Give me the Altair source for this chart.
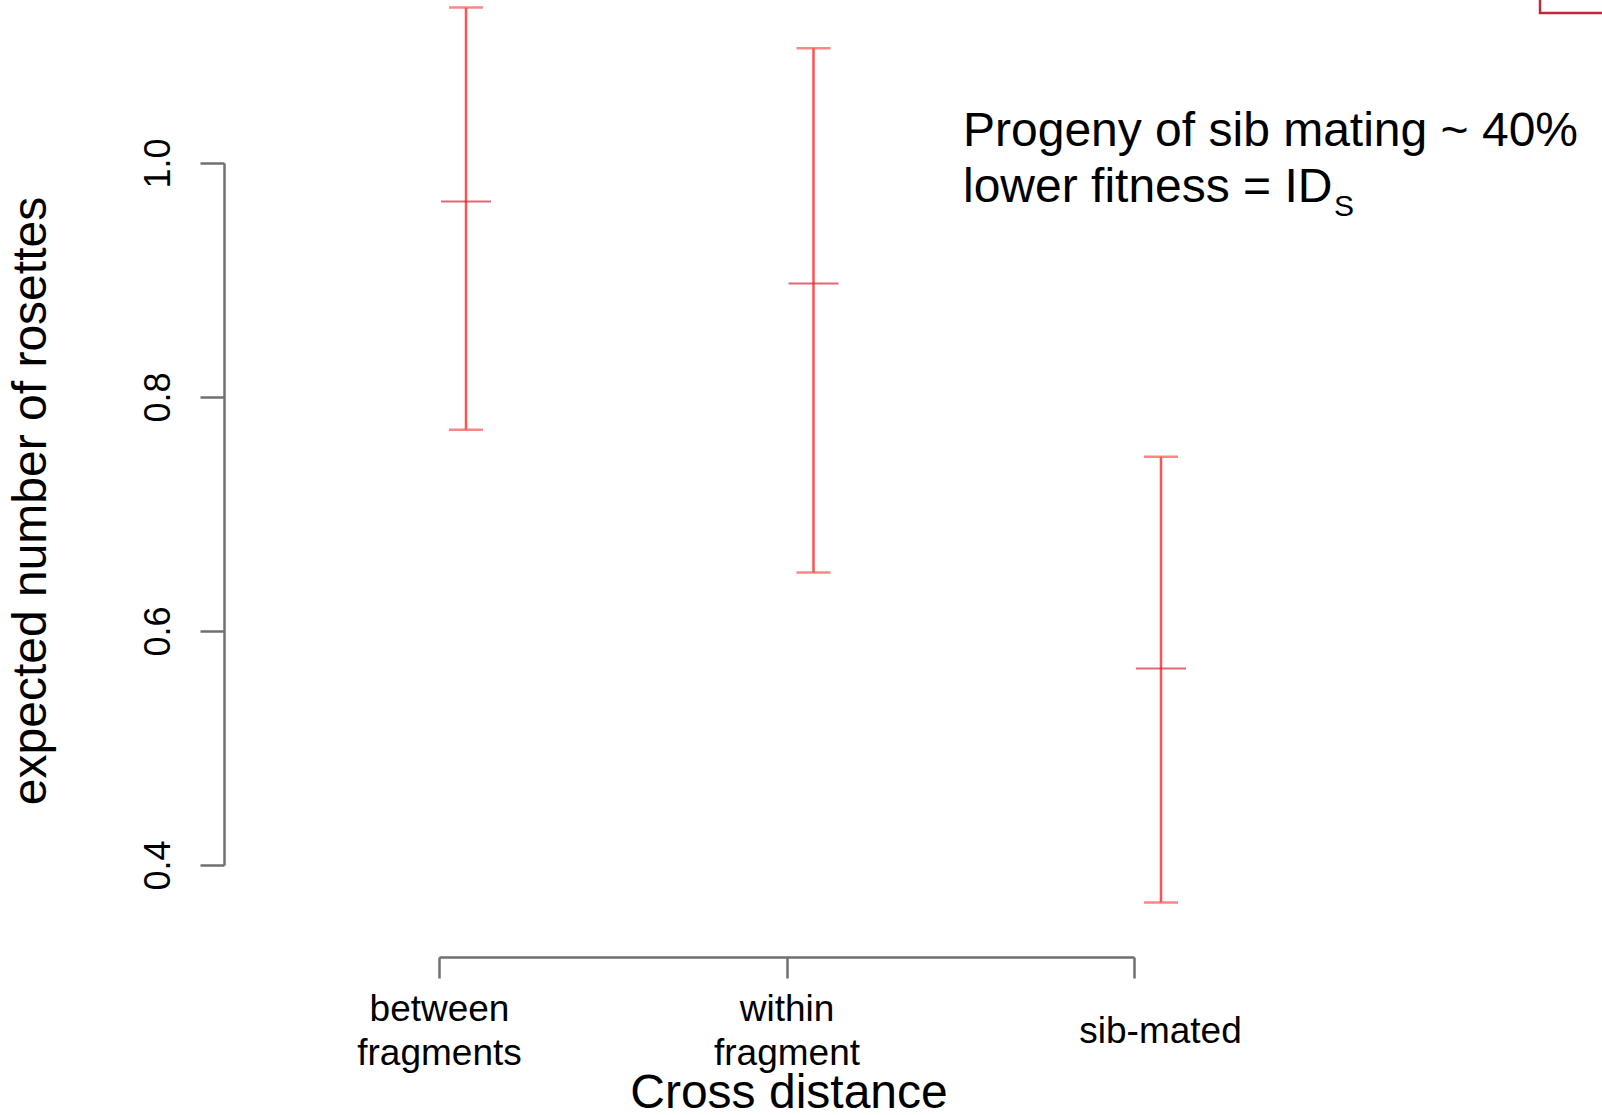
import altair as alt
import pandas as pd

# ---- data ----
categories = ["between fragments", "within fragment", "sib-mated"]
means = [0.967, 0.897, 0.568]
lower = [0.772, 0.650, 0.368]
upper = [1.133, 1.098, 0.749]
y_ticks = [0.4, 0.6, 0.8, 1.0]
y_title = "expected number of rosettes"
x_title = "Cross distance"
note_lines = ["Progeny of sib mating ~ 40%", "lower fitness = ID"]
note_sub = "S"

df = pd.DataFrame({"cat": categories, "mean": means, "lo": lower, "hi": upper})

FONT = "Liberation Sans, Arial, Helvetica, sans-serif"
AX = "#707070"
BAR = "#ff5252"
MEAN = "#d02840"
W, H = 695, 702

xs = alt.Scale(type="point", domain=categories, padding=0)
ys = alt.Scale(domain=[0.4, 1.0], nice=False, zero=False)

x_axis = alt.Axis(
    title=None, orient="bottom", offset=92, tickSize=21, tickWidth=2.5, tickColor=AX,
    domainColor=AX, domainWidth=2.5, labelFontSize=37, labelFont=FONT, labelColor="black",
    labelAngle=0, labelBaseline="top", labelAlign="center", labelLineHeight=44,
    labelExpr="split(datum.label, ' ')",
    labelPadding={"condition": {"test": "datum.value == 'sib-mated'", "value": 35}, "value": 13},
    labelOffset={"condition": {"test": "datum.value == 'sib-mated'", "value": 26}, "value": 0},
    labelOverlap=False, labelFlush=False, grid=False,
)
y_axis = alt.Axis(
    title=None, orient="left", offset=215, values=y_ticks, format=".1f", tickSize=24,
    tickWidth=2.5, tickColor=AX, domainColor=AX, domainWidth=2.5, labelFontSize=36,
    labelFont=FONT, labelColor="black", labelAngle=270, labelAlign="center",
    labelBaseline="alphabetic", labelPadding=31, labelFlush=False, labelOverlap=False, grid=False,
)

base = alt.Chart(df)

stems = base.mark_rule(color=BAR, strokeWidth=2.5, xOffset=27).encode(
    x=alt.X("cat:N", scale=xs, axis=x_axis, sort=categories),
    y=alt.Y("lo:Q", scale=ys, axis=y_axis),
    y2="hi:Q",
)
caps_lo = base.mark_tick(color=BAR, orient="horizontal", size=34, thickness=2.5, xOffset=27).encode(
    x=alt.X("cat:N", scale=xs, sort=categories), y=alt.Y("lo:Q", scale=ys)
)
caps_hi = base.mark_tick(color=BAR, orient="horizontal", size=34, thickness=2.5, xOffset=27).encode(
    x=alt.X("cat:N", scale=xs, sort=categories), y=alt.Y("hi:Q", scale=ys)
)
mean_ticks = base.mark_tick(color=MEAN, orient="horizontal", size=50, thickness=2, xOffset=27).encode(
    x=alt.X("cat:N", scale=xs, sort=categories), y=alt.Y("mean:Q", scale=ys)
)

one = pd.DataFrame({"t": [y_title]})
ytitle = alt.Chart(one).mark_text(
    font=FONT, fontSize=48, angle=270, align="center", baseline="alphabetic", color="black"
).encode(text="t:N", x=alt.value(-393), y=alt.value(338))

xt = pd.DataFrame({"t": [x_title]})
xtitle = alt.Chart(xt).mark_text(
    font=FONT, fontSize=48, align="center", baseline="alphabetic", color="black"
).encode(text="t:N", x=alt.value(350), y=alt.value(945))

n1 = alt.Chart(pd.DataFrame({"t": [note_lines[0]]})).mark_text(
    font=FONT, fontSize=48, align="left", baseline="alphabetic", color="black"
).encode(text="t:N", x=alt.value(524), y=alt.value(-17))
n2 = alt.Chart(pd.DataFrame({"t": [note_lines[1]]})).mark_text(
    font=FONT, fontSize=48, align="left", baseline="alphabetic", color="black"
).encode(text="t:N", x=alt.value(524), y=alt.value(39))
n3 = alt.Chart(pd.DataFrame({"t": [note_sub]})).mark_text(
    font=FONT, fontSize=30, align="left", baseline="alphabetic", color="black"
).encode(text="t:N", x=alt.value(895), y=alt.value(53))

box = alt.Chart(pd.DataFrame({"t": [0]})).mark_rect(
    fill=None, stroke="#c0283c", strokeWidth=2.5
).encode(x=alt.value(1101), x2=alt.value(1250), y=alt.value(-220), y2=alt.value(-150))

chart = alt.layer(
    stems, caps_lo, caps_hi, mean_ticks, ytitle, xtitle, n1, n2, n3, box
).properties(
    width=W, height=H,
    autosize=alt.AutoSizeParams(type="none"),
    padding={"left": 439, "top": 163, "right": 468, "bottom": 250},
    background="white",
).configure_view(stroke=None)

chart.save("out.html", embed_options={"renderer": "svg", "actions": False})
